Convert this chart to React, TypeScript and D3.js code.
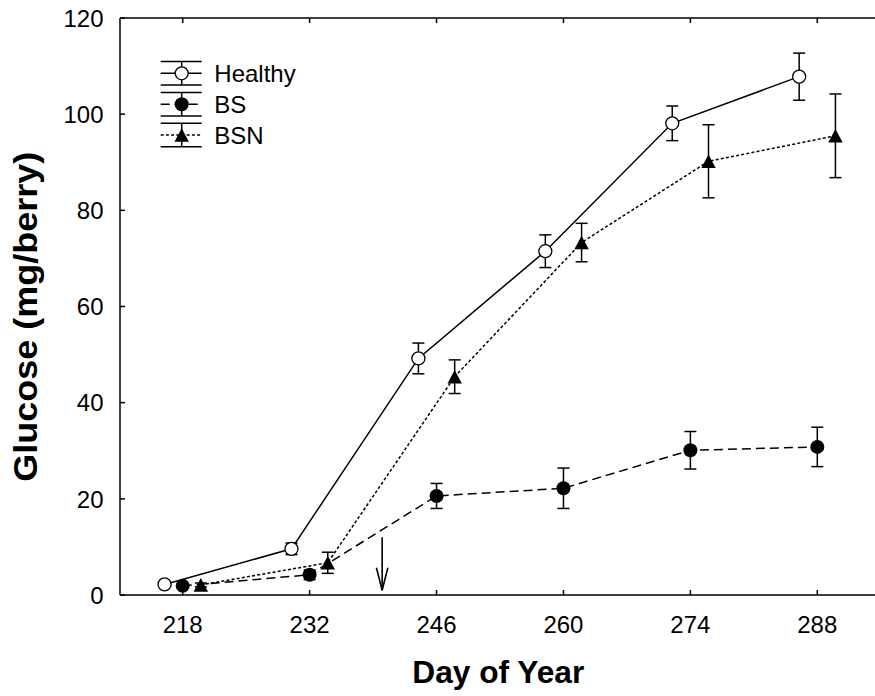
import React from 'react';
import * as d3 from 'd3';

const xTicks = [218, 232, 246, 260, 274, 288];
const yTicks = [0, 20, 40, 60, 80, 100, 120];

const healthyDays = [216, 230, 244, 258, 272, 286];
const healthyValues = [2.2, 9.6, 49.2, 71.5, 98.1, 107.8];
const healthyErr = [0.5, 1.2, 3.2, 3.4, 3.6, 4.9];

const bsDays = [218, 232, 246, 260, 274, 288];
const bsValues = [1.9, 4.2, 20.6, 22.2, 30.1, 30.8];
const bsErr = [0.4, 1.0, 2.6, 4.2, 3.9, 4.1];

const bsnDays = [220, 234, 248, 262, 276, 290];
const bsnValues = [2.1, 6.7, 45.4, 73.3, 90.2, 95.5];
const bsnErr = [0.4, 2.2, 3.5, 4.0, 7.6, 8.7];

const legendLabels = ['Healthy', 'BS', 'BSN'];

const arrowDay = 240;
const arrowTop = 12;
const arrowBottom = 1;

const W = 875;
const H = 696;
const FONT = "'Liberation Sans', Arial, sans-serif";

const x = d3.scaleLinear().domain([218, 288]).range([182.7, 817.3]);
const y = d3.scaleLinear().domain([0, 120]).range([595, 18]);
const axisLeft = 120;
const axisRight = 880;

type Pt = { d: number; v: number; e: number };
const zip = (days: number[], vals: number[], errs: number[]): Pt[] =>
  days.map((d, i) => ({ d, v: vals[i], e: errs[i] }));

const healthy = zip(healthyDays, healthyValues, healthyErr);
const bs = zip(bsDays, bsValues, bsErr);
const bsn = zip(bsnDays, bsnValues, bsnErr);

const line = d3.line<Pt>().x(p => x(p.d)).y(p => y(p.v)).curve(d3.curveLinear);

const DASH = '9,5';
const DOT = '3,2.2';
const SW = 1.5;
const CAP = 6;

const triPath = (cx: number, cy: number, s = 1) =>
  `M${cx},${cy - 6.8 * s}L${cx + 7.2 * s},${cy + 6.8 * s}L${cx - 7.2 * s},${cy + 6.8 * s}Z`;

function ErrorBars({ data }: { data: Pt[] }) {
  return (
    <g stroke="#000" strokeWidth={SW} fill="none">
      {data.map((p, i) => {
        const cx = x(p.d);
        const t = y(p.v + p.e);
        const b = y(p.v - p.e);
        return (
          <g key={i}>
            <line x1={cx} x2={cx} y1={t} y2={b} />
            <line x1={cx - CAP} x2={cx + CAP} y1={t} y2={t} />
            <line x1={cx - CAP} x2={cx + CAP} y1={b} y2={b} />
          </g>
        );
      })}
    </g>
  );
}

export default function App() {
  const legendY = [73.3, 104.3, 135];
  const legX0 = 160.7;
  const legX1 = 201.7;
  const legCx = 181.7;
  const legHalf = 11.8;

  const ax = x(arrowDay);
  const aTop = y(arrowTop);
  const aBot = y(arrowBottom);

  return (
    <svg
      width={W}
      height={H}
      style={{ position: 'absolute', left: 0, top: 0, background: '#fff' }}
      fontFamily={FONT}
    >
      <rect x={0} y={0} width={W} height={H} fill="#fff" />

      {/* frame */}
      <g stroke="#000" strokeWidth={1.5} fill="none">
        <line x1={axisLeft} x2={axisRight} y1={y(0)} y2={y(0)} />
        <line x1={axisLeft} x2={axisRight} y1={y(120)} y2={y(120)} />
        <line x1={axisLeft} x2={axisLeft} y1={y(0)} y2={y(120)} />
        {xTicks.map(t => (
          <g key={t}>
            <line x1={x(t)} x2={x(t)} y1={y(0)} y2={y(0) - 5} />
            <line x1={x(t)} x2={x(t)} y1={y(120)} y2={y(120) + 5} />
          </g>
        ))}
        {yTicks.map(t => (
          <line key={t} x1={axisLeft} x2={axisLeft + 5} y1={y(t)} y2={y(t)} />
        ))}
      </g>

      {/* tick labels */}
      <g fontSize={24} fill="#000">
        {xTicks.map(t => (
          <text key={t} x={x(t)} y={632.5} textAnchor="middle">{t}</text>
        ))}
        {yTicks.map(t => (
          <text key={t} x={103.5} y={y(t) + 8.8} textAnchor="end">{t}</text>
        ))}
      </g>

      {/* axis titles */}
      <text
        x={412.3}
        y={683.3}
        fontSize={30.5}
        fontWeight="bold"
        textLength={172}
        lengthAdjust="spacingAndGlyphs"
      >Day of Year</text>
      <text
        transform={`translate(36.7,481.7) rotate(-90)`}
        fontSize={33}
        fontWeight="bold"
        textLength={330}
        lengthAdjust="spacingAndGlyphs"
      >Glucose (mg/berry)</text>

      {/* lines */}
      <path d={line(healthy) ?? ''} fill="none" stroke="#000" strokeWidth={SW} />
      <path d={line(bs) ?? ''} fill="none" stroke="#000" strokeWidth={SW} strokeDasharray={DASH} />
      <path d={line(bsn) ?? ''} fill="none" stroke="#000" strokeWidth={SW} strokeDasharray={DOT} />

      {/* error bars */}
      <ErrorBars data={healthy} />
      <ErrorBars data={bs} />
      <ErrorBars data={bsn} />

      {/* markers */}
      {healthy.map((p, i) => (
        <circle key={'h' + i} cx={x(p.d)} cy={y(p.v)} r={6.5} fill="#fff" stroke="#000" strokeWidth={1.3} />
      ))}
      {bs.map((p, i) => (
        <circle key={'b' + i} cx={x(p.d)} cy={y(p.v)} r={7} fill="#000" />
      ))}
      {bsn.map((p, i) => (
        <path key={'n' + i} d={triPath(x(p.d), y(p.v))} fill="#000" />
      ))}

      {/* arrow */}
      <g stroke="#000" strokeWidth={1.6} fill="none">
        <line x1={ax} x2={ax} y1={aTop} y2={aBot} />
        <path d={`M${ax - 5.7},${aBot - 22.5}L${ax},${aBot}L${ax + 5.7},${aBot - 22.5}`} />
      </g>

      {/* legend */}
      {legendLabels.map((lab, i) => {
        const cy = legendY[i];
        const dash = i === 0 ? undefined : i === 1 ? DASH : DOT;
        return (
          <g key={lab}>
            <g stroke="#000" strokeWidth={SW} fill="none">
              <line x1={legX0} x2={legX1} y1={cy - legHalf} y2={cy - legHalf} />
              <line x1={legX0} x2={legX1} y1={cy + legHalf} y2={cy + legHalf} />
              <line x1={legCx} x2={legCx} y1={cy - legHalf} y2={cy + legHalf} />
              <line x1={legX0} x2={legX1} y1={cy} y2={cy} strokeDasharray={dash} />
            </g>
            {i === 0 && <circle cx={legCx} cy={cy} r={6.5} fill="#fff" stroke="#000" strokeWidth={1.3} />}
            {i === 1 && <circle cx={legCx} cy={cy} r={7} fill="#000" />}
            {i === 2 && <path d={triPath(legCx, cy)} fill="#000" />}
            <text x={214.3} y={cy + 8.5} fontSize={24}>{lab}</text>
          </g>
        );
      })}
    </svg>
  );
}
